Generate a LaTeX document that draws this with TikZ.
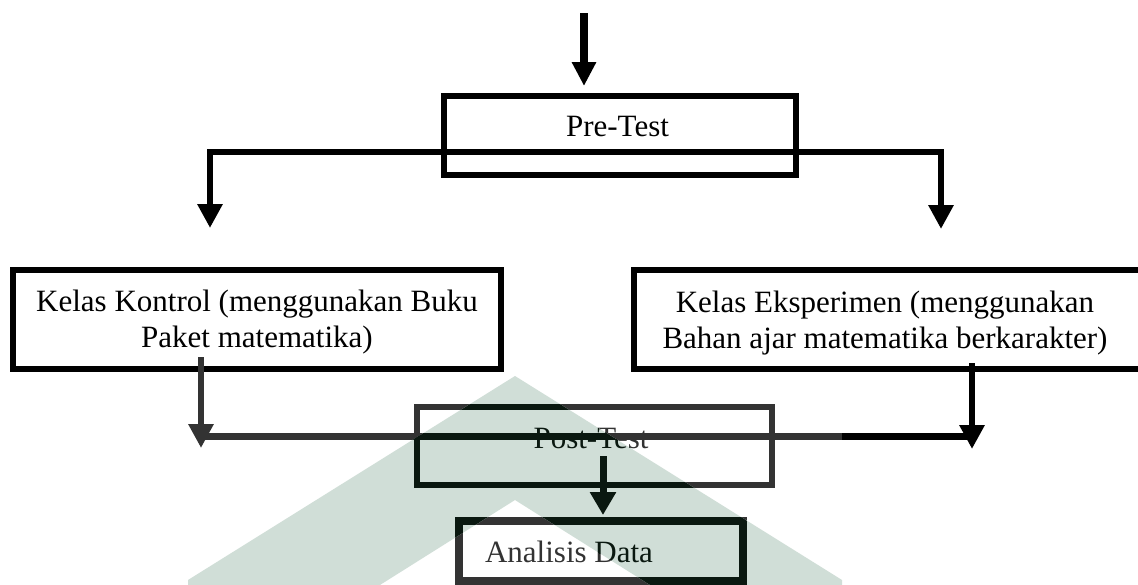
\documentclass[tikz,border=0pt]{standalone}
\usepackage{fontspec}
\setmainfont{Liberation Serif}
\usetikzlibrary{arrows.meta}
\definecolor{wm}{RGB}{208,222,215}
\definecolor{dimgrey}{RGB}{51,51,51}
\definecolor{deep}{RGB}{10,24,16}
\tikzset{
  box/.style={draw, rectangle, inner sep=0pt, outer sep=0pt, line width=6pt},
  txt/.style={font=\fontsize{31}{36}\selectfont, align=center, inner sep=0pt},
  conn/.style={line width=6.5pt, line join=miter},
  tip/.style={-{Triangle[width=24pt,length=24pt]}},
}
\newcommand\lowerparts[1]{%
  \node[box, draw=#1, minimum width=355pt, minimum height=78pt] (post) at (594.5,445.5) {};
  \node[txt, text=#1] (posttext) at (591,438) {Post-Test};
  \node[box, draw=#1, line width=8pt, minimum width=284pt, minimum height=60pt] (analisis) at (601,551) {};
  \node[txt, text=#1] (analisistext) at (569,552) {Analisis Data};
  \draw[conn, draw=#1, line width=7pt, -{Triangle[width=25pt,length=23pt]}]
    (post.south -| px) ++(0,-28.5) -- ([yshift=6pt]analisis.north -| px);
  \draw[conn, draw=#1, tip] (kontrol.south -| kx) ++(0,-12) -- (ktip);
  \draw[conn, draw=#1] (joinL) -- (joinM);
}
\begin{document}
\begin{tikzpicture}[x=1pt,y=-1pt]
\clip (0,0) rectangle (1138,584);
\fill[white] (0,0) rectangle (1138,584);

% entry arrow and Pre-Test
\node[box, minimum width=352pt, minimum height=79pt] (pre) at (620,135.5) {};
\node[txt] (pretext) at (617.5,126.5) {Pre-Test};
\coordinate (entry) at (584,13);
\draw[conn, line width=8pt, -{Triangle[width=23pt,length=24pt]}] (entry) -- ([yshift=10pt]pre.north -| entry);

% the two classes
\node[box, minimum width=488pt, minimum height=99pt] (kontrol) at (257,319.5) {};
\node[txt] (kontroltext) at (257,322.5) {Kelas Kontrol (menggunakan Buku\\Paket matematika)};
\node[box, minimum width=520pt, minimum height=99pt] (eksp) at (894,319.5) {};
\node[txt] (eksptext) at (885,323.5) {Kelas Eksperimen (menggunakan\\Bahan ajar matematika berkarakter)};

\coordinate (splitL) at (210,152);
\coordinate (splitR) at (941,152);
\draw[conn, {Triangle[width=24pt,length=24pt]}-{Triangle[width=24pt,length=24pt]}]
  ([yshift=42pt]kontrol.north -| splitL) -- (splitL) -- (splitR) -- ([yshift=41pt]eksp.north -| splitR);

% helper coordinates for the lower part
\coordinate (kx) at (201,0);
\coordinate (ex) at (972,0);
\coordinate (px) at (603,0);
\coordinate (ktip) at (201,448);
\coordinate (etip) at (972,449);
\coordinate (joinL) at (201,436.5);
\coordinate (joinM) at (842,436.5);
\coordinate (joinR) at (972,436.5);

\lowerparts{dimgrey}
\draw[conn] (joinM) -- (joinR);
\draw[conn, tip] (eksp.south -| ex) ++(0,-6) -- (etip);

% watermark
\fill[wm] (188,590) -- (188,580) -- (515,376) -- (842,580) -- (842,590) -- (658,590) -- (515,500) -- (372,590) -- cycle;
\begin{scope}
  \clip (188,590) -- (188,580) -- (515,376) -- (842,580) -- (842,590) -- (658,590) -- (515,500) -- (372,590) -- cycle;
  \lowerparts{deep}
\end{scope}
\end{tikzpicture}
\end{document}
